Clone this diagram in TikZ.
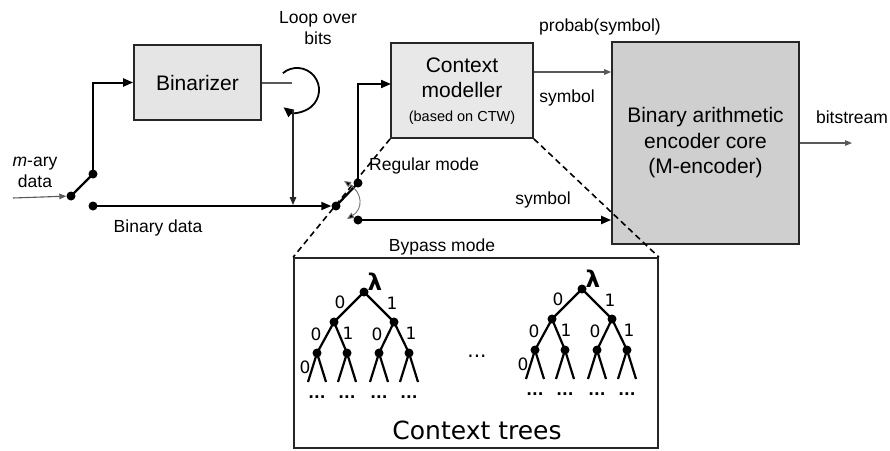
\documentclass[tikz,border=0pt]{standalone}
\usepackage{fontspec}
\setmainfont{Liberation Sans}
\newfontfamily\dv{DejaVu Sans}
\usetikzlibrary{arrows.meta}
\newcommand\ctree[2]{%
\begin{scope}[shift={#2}]
\node[tdot] (#1r) at (364,292) {};
\node[tdot] (#1a) at (334,322) {};
\node[tdot] (#1b) at (394,322) {};
\node[tdot] (#1aa) at (317,353) {};
\node[tdot] (#1ab) at (347,353) {};
\node[tdot] (#1ba) at (379,353) {};
\node[tdot] (#1bb) at (409,353) {};
\draw[tline] (#1a.center) -- (#1r.center) -- (#1b.center);
\draw[tline] (#1aa.center) -- (#1a.center) -- (#1ab.center);
\draw[tline] (#1ba.center) -- (#1b.center) -- (#1bb.center);
\foreach \nn in {aa,ab,ba,bb} {
  \draw[tline] (#1\nn.center) -- ++(-9,29) (#1\nn.center) -- ++(9,29);
  \node[tl, anchor=base, font=\dv\bfseries\fontsize{15}{17}\selectfont] (#1\nn dots) at ([yshift=-45pt]#1\nn.center) {...};
}
\node[tl, font=\dv\bfseries\fontsize{23}{25}\selectfont] (#1lam) at ([xshift=11pt,yshift=10pt]#1r.center) {λ};
\node[tl] (#1l0) at ([xshift=-24pt,yshift=-10pt]#1r.center) {0};
\node[tl] (#1l1) at ([xshift=28pt,yshift=-11pt]#1r.center) {1};
\node[tl] (#1la0) at ([xshift=-18pt,yshift=-12pt]#1a.center) {0};
\node[tl] (#1la1) at ([xshift=14pt,yshift=-11pt]#1a.center) {1};
\node[tl] (#1lb0) at ([xshift=-17pt,yshift=-12pt]#1b.center) {0};
\node[tl] (#1lb1) at ([xshift=17pt,yshift=-11pt]#1b.center) {1};
\node[tl] (#1lc0) at ([xshift=-12pt,yshift=-14pt]#1aa.center) {0};
\end{scope}}
\begin{document}
\begin{tikzpicture}[x=1pt,y=-1pt,
  boxn/.style={draw=black!85, line width=1.7pt, inner sep=0pt, align=center},
  arr/.style={line width=2pt, -{Triangle[length=10pt,width=8pt]}},
  thinarr/.style={draw=black!65, line width=1.1pt, -{Triangle[length=7pt,width=5.5pt]}},
  swdot/.style={circle, fill=black, inner sep=0pt, minimum size=9pt},
  tdot/.style={circle, fill=black, inner sep=0pt, minimum size=9pt},
  lab/.style={font=\fontsize{17.5}{21}\selectfont, inner sep=0pt},
  boxfont/.style={font=\fontsize{21}{25.5}\selectfont},
  tl/.style={font=\dv\fontsize{17}{19}\selectfont, inner sep=0pt},
  tline/.style={line width=2.2pt},
  dsh/.style={line width=1.6pt, dash pattern=on 6pt off 4pt}]
\useasboundingbox[fill=white] (0,0) rectangle (890,450);

% boxes
\node[boxn, fill=black!10, minimum width=127pt, minimum height=75pt, boxfont] (bin) at (197.5,82.5) {Binarizer};
\node[boxn, fill=black!9, minimum width=142pt, minimum height=95pt] (cm) at (462,90.5) {};
\node[boxfont, inner sep=0pt] (cm1) at (462,65) {Context};
\node[boxfont, inner sep=0pt] (cm2) at (462,90) {modeller};
\node[font=\fontsize{14.5}{17}\selectfont, inner sep=0pt] (cm3) at (462,118) {(based on CTW)};
\node[boxn, fill=black!19, minimum width=187pt, minimum height=202pt, boxfont] (bae) at (705.5,143) {Binary arithmetic\\encoder core\\(M-encoder)};
\node[boxn, fill=white, minimum width=364pt, minimum height=190pt] (ct) at (476,353) {};
\node[font=\dv\fontsize{25}{29}\selectfont, inner sep=0pt] (ctl) at (477,430) {Context trees};

% dashed zoom lines
\draw[dsh] (cm.south west) -- (ct.north west);
\draw[dsh] (cm.south east) -- (ct.north east);

% switch 1
\coordinate (in) at (13,198);
\node[swdot] (s1) at (71,196) {};
\node[swdot] (s1u) at (93,174) {};
\node[swdot] (bd) at (93,206) {};
\draw[thinarr] (in) -- (s1);
\draw[line width=2.2pt] (s1.center) -- (s1u.center);
\draw[arr] (s1u.center) |- (bin.west);

% loop over bits
\coordinate (bo) at (292,83);
\coordinate (lpA) at (282.9,73.1);
\draw[draw=black!65, line width=1.1pt] (bin.east |- bo) -- (bo);
\draw[line width=1.8pt, -{Triangle[length=10pt,width=9pt]}] (lpA) arc[start angle=230, end angle=488, radius=22];
\coordinate (lv) at (293,110);
\coordinate (lvend) at (293,205);
\draw[draw=black!85, line width=1.3pt, -{Triangle[length=8pt,width=6.5pt]}] (lv) -- (lvend);

% switch 2
\node[swdot] (s2) at (336,206) {};
\node[swdot] (s2u) at (358,183) {};
\node[swdot] (s2d) at (358,220) {};
\draw[arr] (bd.center) -- (s2);
\draw[line width=2.2pt] (s2.center) -- (s2u.center);
\coordinate (cmin) at (391,84);
\draw[arr] (s2u.center) |- (cmin);
\coordinate (sa) at (344,181);
\coordinate (sb) at (347,219);
\draw[draw=black!55, line width=0.9pt, {Triangle[length=7pt,width=6pt,fill=black]}-{Triangle[length=7pt,width=6pt,fill=black]}] (sa) .. controls (363,193) and (363,209) .. (sb);
\draw[arr] (s2d.center) -- (bae.west |- s2d);

% arrows to/from encoder
\coordinate (pr) at (0,72);
\draw[thinarr, line width=1.3pt] (cm.east |- pr) -- (bae.west |- pr);
\coordinate (out) at (852,143);
\draw[thinarr] (bae.east) -- (out);

% labels
\node[lab, align=center] (mary) at (35,172) {\textit{m}-ary\\data};
\node[lab] (bdl) at (158,228) {Binary data};
\node[lab, align=center] (loop) at (318,28) {Loop over\\bits};
\node[lab] (prl) at (600,27) {probab(symbol)};
\node[lab] (sy1) at (567,98) {symbol};
\node[lab] (bsl) at (852,117) {bitstream};
\node[lab] (sy2) at (543,200) {symbol};
\node[lab, anchor=west] (rml) at (369,166) {Regular mode};
\node[lab] (bpl) at (442,247) {Bypass mode};

% context trees
\ctree{ta}{(0,0)}
\ctree{tb}{(218,-3)}
\node[tl, font=\dv\fontsize{20}{22}\selectfont] (mid) at (477,356) {...};
\end{tikzpicture}
\end{document}
